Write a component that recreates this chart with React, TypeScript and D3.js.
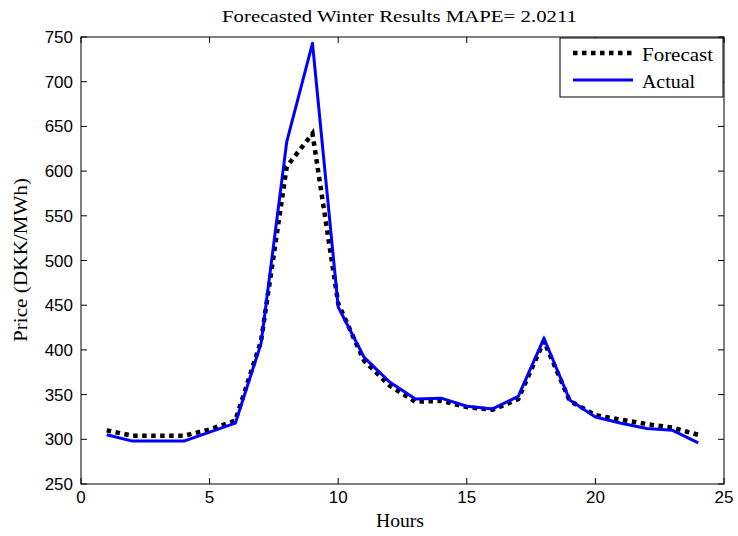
import React from "react";
import * as d3 from "d3";

const hours = [1,2,3,4,5,6,7,8,9,10,11,12,13,14,15,16,17,18,19,20,21,22,23,24];
const actual = [305,298,298,298,308,318,407,633,743,448,392,364,345,346,337,334,348,413,344,325,318,312,310,296];
const forecast = [310,304,304,304,311,321,410,605,642,452,388,360,342,343,336,333,345,410,343,327,322,317,313,305];
const xTicks = [0,5,10,15,20,25];
const yTicks = [250,300,350,400,450,500,550,600,650,700,750];
const title = "Forecasted Winter Results MAPE= 2.0211";
const xLabel = "Hours";
const yLabel = "Price (DKK/MWh)";
const seriesNames = ["Forecast", "Actual"];

export default function App() {
  const W = 738, H = 536;
  const L = 81, R = 724, T = 37, B = 484;
  const x = d3.scaleLinear().domain([0, 25]).range([L, R]);
  const y = d3.scaleLinear().domain([250, 750]).range([B, T]);
  const line = d3.line<number>().x((_, i) => x(hours[i])).y(d => y(d));
  const tickFont = "'Liberation Sans', Arial, sans-serif";
  const serif = "'Liberation Serif', 'Times New Roman', serif";
  return (
    <svg width={W} height={H} style={{ position: "absolute", left: 0, top: 0, background: "#fff" }}>
      <rect x={0} y={0} width={W} height={H} fill="#fff" />
      <text x={222} y={22} fontFamily={serif} fontSize={17.5} textLength={355} lengthAdjust="spacingAndGlyphs">{title}</text>
      <path d={line(forecast) || ""} fill="none" stroke="#000" strokeWidth={4.5} strokeDasharray="4.5,4.5" />
      <path d={line(actual) || ""} fill="none" stroke="#0000ff" strokeWidth={3} strokeLinejoin="round" />
      <rect x={L} y={T} width={R - L} height={B - T} fill="none" stroke="#000" strokeWidth={1} />
      {xTicks.map(t => (
        <g key={"x" + t}>
          <line x1={x(t)} x2={x(t)} y1={B} y2={B - 6} stroke="#000" />
          <line x1={x(t)} x2={x(t)} y1={T} y2={T + 6} stroke="#000" />
          <text x={x(t)} y={B + 19} textAnchor="middle" fontFamily={tickFont} fontSize={17}>{t}</text>
        </g>
      ))}
      {yTicks.map(t => (
        <g key={"y" + t}>
          <line x1={L} x2={L + 6} y1={y(t)} y2={y(t)} stroke="#000" />
          <line x1={R} x2={R - 6} y1={y(t)} y2={y(t)} stroke="#000" />
          <text x={L - 8} y={y(t) + 6} textAnchor="end" fontFamily={tickFont} fontSize={17}>{t}</text>
        </g>
      ))}
      <text x={376} y={527} fontFamily={serif} fontSize={18} textLength={48} lengthAdjust="spacingAndGlyphs">{xLabel}</text>
      <text transform={`translate(27,342) rotate(-90)`} fontFamily={serif} fontSize={18} textLength={164} lengthAdjust="spacingAndGlyphs">{yLabel}</text>
      <g>
        <rect x={560} y={38} width={163} height={59} fill="#fff" stroke="#000" strokeWidth={1} />
        <line x1={573} x2={633} y1={53} y2={53} stroke="#000" strokeWidth={4.5} strokeDasharray="4.5,4.5" />
        <text x={642} y={61} fontFamily={serif} fontSize={19} textLength={71} lengthAdjust="spacingAndGlyphs">{seriesNames[0]}</text>
        <line x1={573} x2={633} y1={80} y2={80} stroke="#0000ff" strokeWidth={3} />
        <text x={642} y={88} fontFamily={serif} fontSize={19} textLength={53} lengthAdjust="spacingAndGlyphs">{seriesNames[1]}</text>
      </g>
    </svg>
  );
}
